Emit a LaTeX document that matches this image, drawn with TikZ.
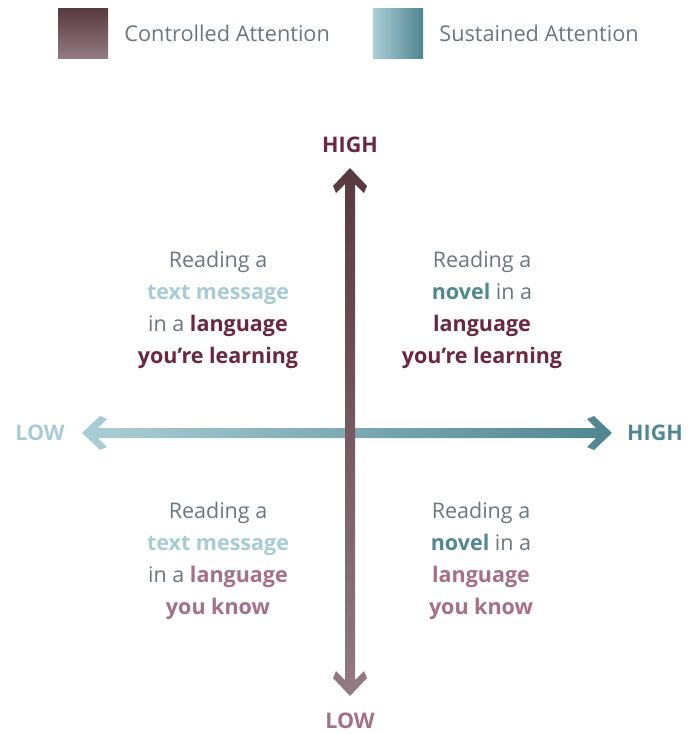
\documentclass[tikz,border=0pt]{standalone}
\usepackage{fontspec}
\setmainfont{Open Sans}
\usetikzlibrary{positioning}

\definecolor{txtgray}{HTML}{6A777F}
\definecolor{lightblue}{HTML}{A8CCD6}
\definecolor{teal}{HTML}{4F8892}
\definecolor{maroon}{HTML}{6B2740}
\definecolor{mauve}{HTML}{A66F86}
\definecolor{ctrltop}{HTML}{57393F}
\definecolor{ctrlbot}{HTML}{937A83}
\definecolor{sustleft}{HTML}{ABCED6}
\definecolor{sustright}{HTML}{4F8590}

\begin{document}
\begin{tikzpicture}[x=1pt,y=-1pt,
    every node/.style={inner sep=0pt, text=txtgray, font=\fontsize{21.5}{32}\selectfont},
    axislabel/.style={font=\fontsize{21.5}{25}\selectfont\bfseries},
    quadtext/.style={align=center},
    legendbox/.style={minimum size=50pt}]
  \useasboundingbox (0,0) rectangle (699,734);

  % legend
  \node[legendbox, top color=ctrltop, bottom color=ctrlbot] (ctrlbox) at (83,33) {};
  \node[right=16pt of ctrlbox, font=\fontsize{21.7}{24}\selectfont] (ctrltext) {Controlled Attention};
  \node[legendbox, left color=sustleft, right color=sustright] (sustbox) at (398,33) {};
  \node[right=16pt of sustbox, font=\fontsize{21.7}{24}\selectfont] (susttext) {Sustained Attention};

  % horizontal axis (sustained attention)
  \shade[left color=sustleft, right color=sustright]
    (82,433) -- (100,416) -- (107,419) -- (98,428)
    -- (596,428) -- (587,419) -- (594,416) -- (612,433)
    -- (594,450) -- (587,447) -- (596,438)
    -- (98,438) -- (107,447) -- (100,450) -- cycle;

  % vertical axis (controlled attention)
  \shade[top color=ctrltop, bottom color=ctrlbot]
    (350,168) -- (367,186) -- (364,193) -- (355,184)
    -- (355,680) -- (364,671) -- (367,678) -- (350,696)
    -- (333,678) -- (336,671) -- (345,680)
    -- (345,184) -- (336,193) -- (333,186) -- cycle;

  % axis labels
  \node[axislabel, text=maroon] (highv) at (350,145) {HIGH};
  \node[axislabel, text=mauve] (lowv) at (350,721) {LOW};
  \node[axislabel, text=lightblue] (lowh) at (40,433) {LOW};
  \node[axislabel, text=teal] (highh) at (655,433) {HIGH};

  % quadrants
  \node[quadtext] (tl) at (218,310) {Reading a\\
    \textbf{\textcolor{lightblue}{text message}}\\
    in a \textbf{\textcolor{maroon}{language}}\\
    \textbf{\textcolor{maroon}{you’re learning}}};
  \node[quadtext] (tr) at (482,310) {Reading a\\
    \textbf{\textcolor{teal}{novel}} in a\\
    \textbf{\textcolor{maroon}{language}}\\
    \textbf{\textcolor{maroon}{you’re learning}}};
  \node[quadtext] (bl) at (218,561) {Reading a\\
    \textbf{\textcolor{lightblue}{text message}}\\
    in a \textbf{\textcolor{mauve}{language}}\\
    \textbf{\textcolor{mauve}{you know}}};
  \node[quadtext] (br) at (481,561) {Reading a\\
    \textbf{\textcolor{teal}{novel}} in a\\
    \textbf{\textcolor{mauve}{language}}\\
    \textbf{\textcolor{mauve}{you know}}};
\end{tikzpicture}
\end{document}
